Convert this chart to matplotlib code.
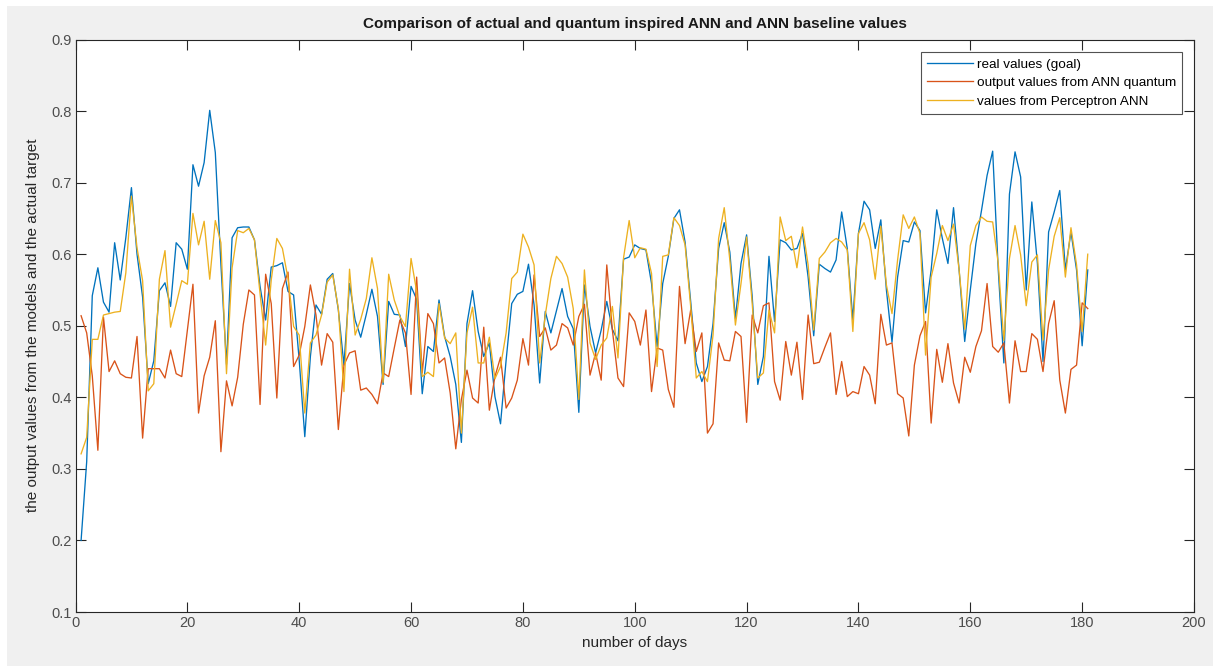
import numpy as np
import matplotlib
matplotlib.use('Agg')
import matplotlib.pyplot as plt
from matplotlib.patches import Rectangle

# --- values (days 1..181) ---
real_values = [
    0.200, 0.310, 0.542, 0.581, 0.533, 0.519, 0.616, 0.564, 0.623, 0.693,
    0.600, 0.540, 0.419, 0.451, 0.549, 0.560, 0.527, 0.616, 0.607, 0.579,
    0.725, 0.695, 0.728, 0.801, 0.742, 0.586, 0.446, 0.623, 0.637, 0.638,
    0.638, 0.620, 0.555, 0.508, 0.582, 0.584, 0.588, 0.548, 0.543, 0.452,
    0.345, 0.457, 0.529, 0.516, 0.565, 0.573, 0.522, 0.445, 0.559, 0.508,
    0.484, 0.516, 0.551, 0.513, 0.418, 0.534, 0.516, 0.515, 0.471, 0.555,
    0.537, 0.405, 0.471, 0.464, 0.536, 0.485, 0.457, 0.418, 0.337, 0.503,
    0.549, 0.492, 0.457, 0.476, 0.401, 0.363, 0.452, 0.531, 0.544, 0.548,
    0.586, 0.529, 0.420, 0.520, 0.490, 0.521, 0.552, 0.513, 0.496, 0.379,
    0.557, 0.499, 0.462, 0.494, 0.534, 0.495, 0.479, 0.593, 0.596, 0.613,
    0.608, 0.606, 0.559, 0.471, 0.559, 0.597, 0.650, 0.662, 0.617, 0.534,
    0.448, 0.422, 0.443, 0.503, 0.608, 0.644, 0.603, 0.510, 0.587, 0.627,
    0.541, 0.418, 0.457, 0.597, 0.506, 0.620, 0.616, 0.606, 0.608, 0.629,
    0.568, 0.486, 0.586, 0.580, 0.575, 0.592, 0.659, 0.608, 0.508, 0.629,
    0.674, 0.662, 0.608, 0.648, 0.550, 0.477, 0.568, 0.619, 0.617, 0.645,
    0.633, 0.518, 0.578, 0.662, 0.622, 0.587, 0.665, 0.578, 0.478, 0.550,
    0.615, 0.661, 0.710, 0.744, 0.578, 0.448, 0.684, 0.743, 0.708, 0.550,
    0.673, 0.587, 0.450, 0.631, 0.659, 0.689, 0.578, 0.631, 0.578, 0.472,
    0.578,
]

quantum_values = [
    0.514, 0.490, 0.430, 0.326, 0.512, 0.436, 0.451, 0.433, 0.428, 0.427,
    0.485, 0.343, 0.440, 0.440, 0.440, 0.427, 0.466, 0.433, 0.429, 0.493,
    0.558, 0.378, 0.430, 0.456, 0.507, 0.324, 0.423, 0.388, 0.428, 0.502,
    0.550, 0.543, 0.390, 0.572, 0.531, 0.399, 0.552, 0.575, 0.443, 0.459,
    0.499, 0.557, 0.515, 0.445, 0.489, 0.477, 0.355, 0.445, 0.462, 0.465,
    0.410, 0.413, 0.404, 0.391, 0.434, 0.429, 0.469, 0.508, 0.490, 0.404,
    0.568, 0.434, 0.517, 0.503, 0.448, 0.455, 0.406, 0.328, 0.397, 0.438,
    0.399, 0.392, 0.498, 0.382, 0.429, 0.456, 0.385, 0.399, 0.424, 0.482,
    0.445, 0.571, 0.485, 0.497, 0.466, 0.473, 0.503, 0.497, 0.473, 0.513,
    0.530, 0.431, 0.462, 0.424, 0.585, 0.494, 0.427, 0.415, 0.518, 0.506,
    0.473, 0.522, 0.408, 0.469, 0.466, 0.411, 0.386, 0.555, 0.475, 0.522,
    0.464, 0.490, 0.350, 0.363, 0.476, 0.452, 0.451, 0.492, 0.485, 0.365,
    0.515, 0.490, 0.528, 0.532, 0.422, 0.396, 0.478, 0.431, 0.477, 0.397,
    0.515, 0.447, 0.449, 0.470, 0.490, 0.404, 0.450, 0.401, 0.408, 0.405,
    0.443, 0.431, 0.391, 0.516, 0.473, 0.476, 0.405, 0.399, 0.346, 0.445,
    0.486, 0.506, 0.364, 0.467, 0.421, 0.475, 0.420, 0.392, 0.456, 0.435,
    0.471, 0.493, 0.559, 0.471, 0.463, 0.476, 0.392, 0.479, 0.436, 0.436,
    0.489, 0.481, 0.436, 0.503, 0.535, 0.424, 0.378, 0.439, 0.445, 0.532,
    0.524,
]

perceptron_values = [
    0.321, 0.344, 0.481, 0.481, 0.515, 0.517, 0.519, 0.520, 0.574, 0.681,
    0.609, 0.563, 0.409, 0.419, 0.565, 0.605, 0.498, 0.530, 0.563, 0.558,
    0.657, 0.613, 0.646, 0.565, 0.647, 0.616, 0.433, 0.581, 0.633, 0.630,
    0.636, 0.620, 0.545, 0.473, 0.564, 0.622, 0.608, 0.566, 0.499, 0.487,
    0.378, 0.476, 0.487, 0.515, 0.561, 0.571, 0.524, 0.408, 0.579, 0.487,
    0.509, 0.538, 0.595, 0.552, 0.421, 0.572, 0.536, 0.513, 0.499, 0.594,
    0.548, 0.429, 0.435, 0.429, 0.531, 0.483, 0.475, 0.490, 0.350, 0.490,
    0.526, 0.448, 0.448, 0.484, 0.426, 0.443, 0.490, 0.566, 0.575, 0.628,
    0.610, 0.585, 0.448, 0.515, 0.566, 0.597, 0.587, 0.568, 0.524, 0.397,
    0.578, 0.476, 0.453, 0.473, 0.483, 0.527, 0.455, 0.595, 0.647, 0.595,
    0.609, 0.607, 0.573, 0.443, 0.597, 0.599, 0.651, 0.640, 0.613, 0.527,
    0.427, 0.436, 0.422, 0.487, 0.622, 0.665, 0.592, 0.501, 0.559, 0.624,
    0.531, 0.427, 0.434, 0.522, 0.490, 0.652, 0.619, 0.625, 0.581, 0.638,
    0.585, 0.494, 0.594, 0.603, 0.616, 0.622, 0.617, 0.606, 0.492, 0.629,
    0.644, 0.620, 0.565, 0.639, 0.557, 0.517, 0.592, 0.655, 0.636, 0.652,
    0.629, 0.459, 0.568, 0.601, 0.640, 0.619, 0.642, 0.578, 0.495, 0.612,
    0.640, 0.652, 0.646, 0.645, 0.587, 0.479, 0.594, 0.640, 0.599, 0.528,
    0.589, 0.599, 0.480, 0.578, 0.625, 0.651, 0.568, 0.637, 0.585, 0.492,
    0.600,
]

days = np.arange(1, len(real_values) + 1)

series_labels = ['real values (goal)', 'output values from ANN quantum',
                 'values from Perceptron ANN']
series_colors = ['#0072BD', '#D95319', '#EDB120']

plt.rcParams['font.family'] = ['Liberation Sans', 'DejaVu Sans']
axis_gray = '#262626'

fig = plt.figure(figsize=(12.13, 6.66), dpi=100)
fig.patch.set_facecolor('white')
# MATLAB-style gray figure area (white strip on left/top from the screenshot)
fig.patches.append(Rectangle((7 / 1213, 0), 1, 1 - 6 / 666, transform=fig.transFigure,
                             facecolor='#f0f0f0', edgecolor='none', zorder=-10))

ax = fig.add_axes([75.5 / 1213, 54 / 666, (1194 - 75.5) / 1213, (612 - 39.5) / 666])
ax.set_zorder(1)
ax.set_facecolor('white')

for vals, lab, col in zip([real_values, quantum_values, perceptron_values],
                          series_labels, series_colors):
    ax.plot(days, vals, color=col, linewidth=0.95, label=lab)

ax.set_xlim(0, 200)
ax.set_ylim(0.1, 0.9)
ax.set_xticks(np.arange(0, 201, 20))
ax.set_yticks(np.round(np.arange(0.1, 0.91, 0.1), 1))
ax.set_yticklabels([f'{v:.1f}' for v in np.arange(0.1, 0.91, 0.1)])

ax.tick_params(direction='in', length=7, width=0.8, top=True, right=True,
               labelsize=10.5, colors=axis_gray, labelcolor='#4d4d4d', pad=3)
for sp in ax.spines.values():
    sp.set_color(axis_gray)
    sp.set_linewidth(0.8)

ax.set_title('Comparison of actual and quantum inspired ANN and ANN baseline values',
             fontsize=11, fontweight='bold', color='#1a1a1a', pad=8)
ax.set_xlabel('number of days', fontsize=11, color='#262626', labelpad=4)
ax.set_ylabel('the output values from the models and the actual target', fontsize=11,
              color='#262626', labelpad=8)

leg = ax.legend(loc='upper right', bbox_to_anchor=(0.9893, 0.978), fontsize=9.7,
                frameon=True, fancybox=False, handlelength=3.4, handletextpad=0.3,
                borderpad=0.45, labelspacing=0.45, borderaxespad=0)
leg.get_frame().set_edgecolor(axis_gray)
leg.get_frame().set_linewidth(0.8)

plt.savefig('out.png', dpi=100)
plt.close()
